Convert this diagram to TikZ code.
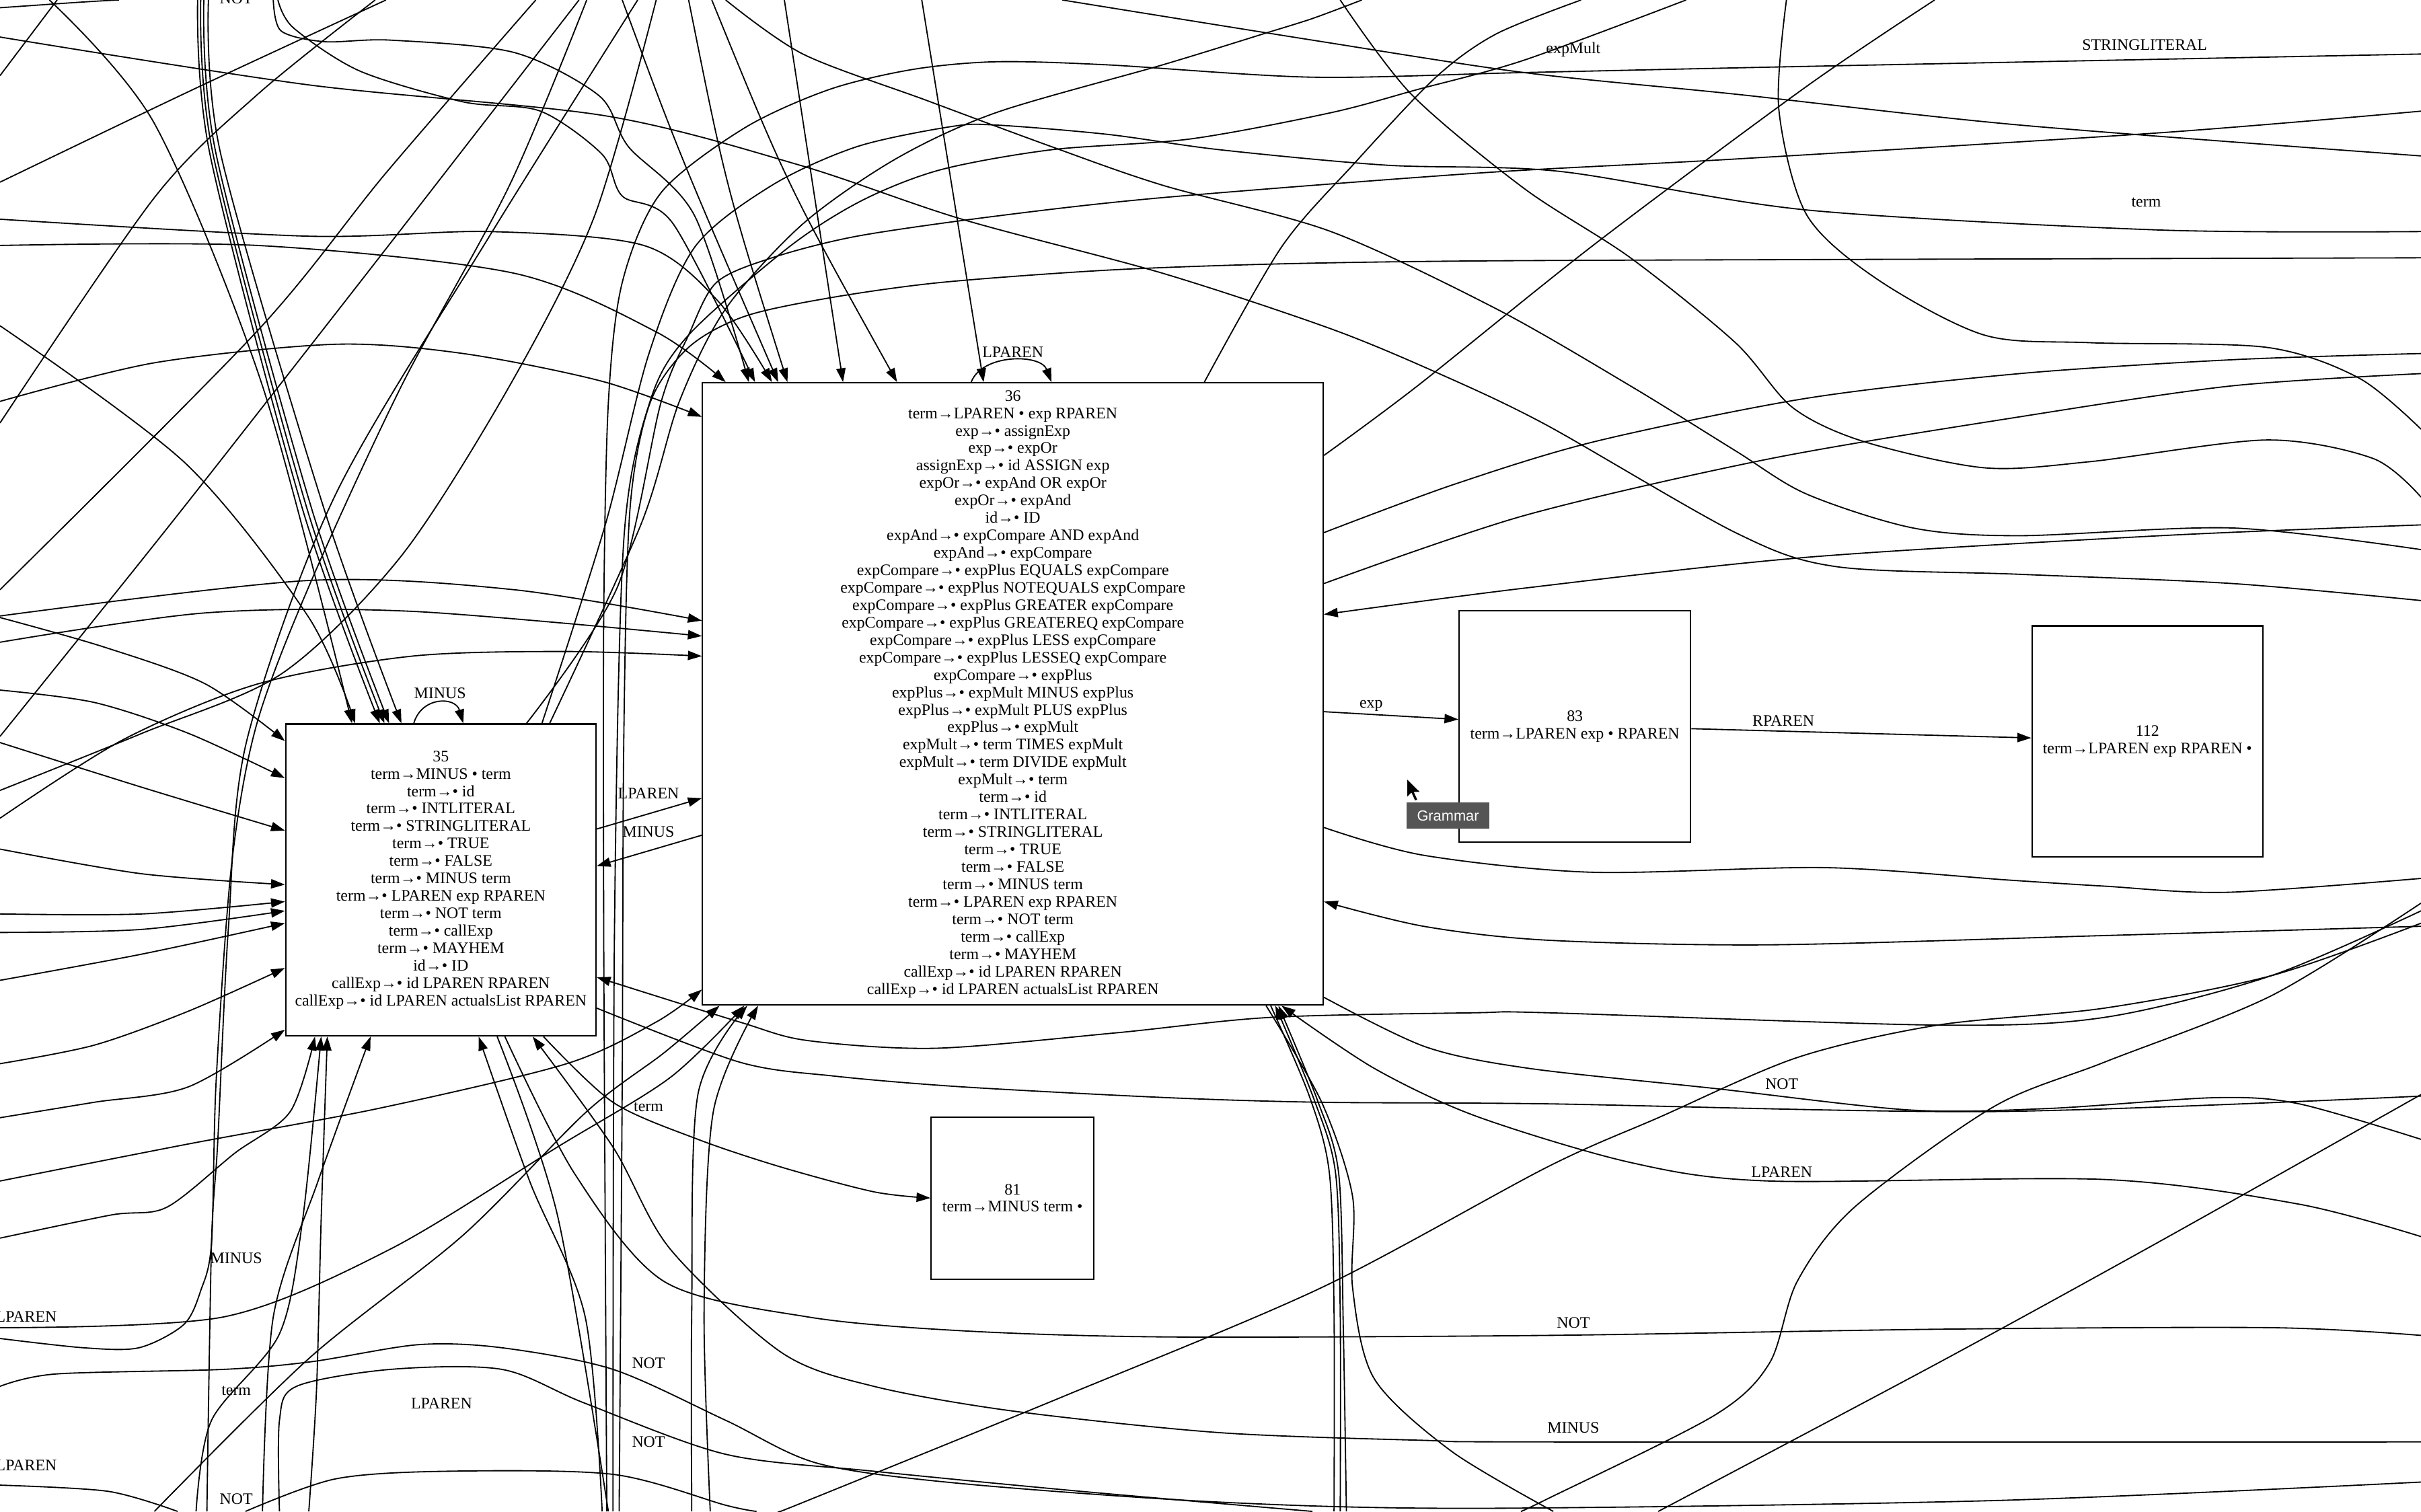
\documentclass[tikz,border=0pt]{standalone}
\usepackage{fontspec}
\setmainfont{Liberation Serif}
\newfontfamily\tipfont{Liberation Sans}
\usepackage{tikz}
\usetikzlibrary{arrows.meta}
\definecolor{tipgray}{RGB}{85,85,85}
\newcommand{\Tm}{term→}
\newcommand{\Ec}{expCompare→• expPlus}

\begin{document}
\begin{tikzpicture}[x=1pt, y=-1pt, line width=0.8pt,
  >={Triangle[length=9pt,width=6pt]},
  state/.style={draw, line width=0.9pt, inner sep=0pt, align=center,
    font=\fontsize{10.4}{11.3}\selectfont},
  lab/.style={inner sep=0pt, font=\fontsize{10.4}{12}\selectfont}]

  \useasboundingbox (0,0) rectangle (1568,979);

  %% states
  \node[state, minimum width=402pt, minimum height=403pt] (n36) at (656,449.5) {36\\
    \Tm LPAREN • exp RPAREN\\ exp→• assignExp\\ exp→• expOr\\
    assignExp→• id ASSIGN exp\\ expOr→• expAnd OR expOr\\ expOr→• expAnd\\
    id→• ID\\ expAnd→• expCompare AND expAnd\\ expAnd→• expCompare\\
    \Ec{} EQUALS expCompare\\ \Ec{} NOTEQUALS expCompare\\
    \Ec{} GREATER expCompare\\ \Ec{} GREATEREQ expCompare\\
    \Ec{} LESS expCompare\\ \Ec{} LESSEQ expCompare\\ \Ec\\
    expPlus→• expMult MINUS expPlus\\ expPlus→• expMult PLUS expPlus\\
    expPlus→• expMult\\ expMult→• term TIMES expMult\\
    expMult→• term DIVIDE expMult\\ expMult→• term\\ \Tm• id\\
    \Tm• INTLITERAL\\ \Tm• STRINGLITERAL\\ \Tm• TRUE\\ \Tm• FALSE\\
    \Tm• MINUS term\\ \Tm• LPAREN exp RPAREN\\ \Tm• NOT term\\
    \Tm• callExp\\ \Tm• MAYHEM\\ callExp→• id LPAREN RPAREN\\
    callExp→• id LPAREN actualsList RPAREN};
  \node[state, minimum width=201pt, minimum height=202pt] (n35) at (285.5,570) {35\\
    \Tm MINUS • term\\ \Tm• id\\ \Tm• INTLITERAL\\ \Tm• STRINGLITERAL\\
    \Tm• TRUE\\ \Tm• FALSE\\ \Tm• MINUS term\\ \Tm• LPAREN exp RPAREN\\
    \Tm• NOT term\\ \Tm• callExp\\ \Tm• MAYHEM\\ id→• ID\\
    callExp→• id LPAREN RPAREN\\ callExp→• id LPAREN actualsList RPAREN};
  \node[state, minimum width=105.5pt, minimum height=105pt] (n81) at (655.8,776) {81\\ \Tm MINUS term •};
  \node[state, minimum width=150pt, minimum height=150pt] (n83) at (1020,470.5) {83\\ \Tm LPAREN exp • RPAREN};
  \node[state, minimum width=149.6pt, minimum height=149.6pt] (n112) at (1390.8,480.2) {112\\ \Tm LPAREN exp RPAREN •};

  %% edges between the states
  \draw[->] (n35.north-|268,0) .. controls (273,451) and (295,451) .. (n35.north-|300,0); %% 35->35
  \node[lab] (lm1) at (285,449) {MINUS};
  \draw[->] (n36.north-|629,0) .. controls (636,229) and (674,229) .. (n36.north-|681,0); %% 36->36
  \node[lab] (llp1) at (656,228) {LPAREN};
  \draw[->] (n35.east|-0,537) -- (n36.west|-0,517); %% 35->36
  \node[lab] (llp2) at (420,514) {LPAREN};
  \draw[->] (n36.west|-0,541) -- (n35.east|-0,561); %% 36->35
  \node[lab] (lm2) at (420,539) {MINUS};
  \draw[->] (n36.east|-0,461) -- (n83.west|-0,466); %% 36->83
  \node[lab] (lexp) at (888,457) {exp};
  \draw[->] (n83.east|-0,472) -- (n112.west|-0,478); %% 83->112
  \node[lab] (lrp) at (1155,467) {RPAREN};
  \draw[->] plot[smooth] coordinates {(n35.south-|352,0) (397,714) (452,738) (506,756) (566,772) (n81.west|-0,776)}; %% 35->81
  \node[lab] (lt1) at (420,717) {term};

  %% from the top left
  \draw (0,5) .. controls (30,3) and (55,1) .. (77,0);
  \draw (0,49) -- (37,0);
  \draw plot[smooth] coordinates {(0,118) (125,58) (250,0)};
  \draw plot[smooth] coordinates {(0,274) (100,128) (167,61) (243,0)};
  \draw plot[smooth] coordinates {(347,0) (250,112) (167,214) (0,382)};
  \draw plot[smooth] coordinates {(375,0) (233,183) (110,340) (0,477)};
  \draw plot[smooth] coordinates {(413,0) (317,153) (217,321) (160,479) (148,600) (141,740) (137,805) (134,979)};
  \draw plot[smooth] coordinates {(0,867) (54,873) (90,873) (119,858) (130,836) (137,805) (140,700) (150,560) (166,470) (200,380) (260,250) (330,120) (380,0)};
  \draw plot[smooth] coordinates {(0,512) (92,475) (183,436) (260,360) (330,250) (385,140) (425,0)};
  \draw[->] plot[smooth] coordinates {(32,0) (100,80) (170,250) (n35.north-|228,0)};
  \draw[->] plot[smooth] coordinates {(0,211) (120,300) (200,400) (n35.north-|230,0)};
  \foreach \a/\b in {128/246,130/249,132/252,135/260}
    \draw[->] plot[smooth] coordinates {(\a,0) (\a+8,100) (\b-50,330) (n35.north-|\b,0)};
  \node[lab] (ln0) at (153,-1) {NOT};

  %% into 36 from the top and the left
  \draw[->] plot[smooth] coordinates {(0,142) (200,153) (317,150) (417,159) (465,195) (n36.north-|500,0)};
  \draw[->] plot[smooth] coordinates {(0,159) (167,159) (333,177) (425,215) (n36.north-|470,0)};
  \draw[->] plot[smooth] coordinates {(177,0) (182,20) (210,27) (253,26) (333,34) (388,62) (407,95) (450,140) (n36.north-|485,0)};
  \draw[->] plot[smooth] coordinates {(180,0) (190,18) (233,46) (300,66) (350,72) (390,100) (403,127) (436,145) (n36.north-|489,0)};
  \draw[->] plot[smooth] coordinates {(0,260) (100,235) (217,223) (300,229) (390,247) (n36.west|-0,270)};
  \draw[->] (403,0) .. controls (440,100) .. (n36.north-|504,0);
  \draw[->] (446,0) .. controls (470,120) .. (n36.north-|510,0);
  \draw[->] (461,0) .. controls (510,120) .. (n36.north-|581,0);
  \draw[->] (508,0) -- (n36.north-|546,0);
  \draw[->] (597,0) -- (n36.north-|637,0);
  \draw[->] plot[smooth] coordinates {(0,399) (200,376) (333,382) (n36.west|-0,402)};
  \draw[->] plot[smooth] coordinates {(0,416) (133,397) (267,396) (n36.west|-0,412)};
  \draw[->] plot[smooth] coordinates {(0,530) (80,479) (167,443) (267,425) (367,422) (n36.west|-0,425)};

  %% long ones over the top
  \draw plot[smooth] coordinates {(0,24) (200,55) (392,75) (518,107) (623,142) (753,177) (862,213) (932,242) (1001,275) (1124,345) (1189,367) (1308,372) (1446,378) (1568,389)};
  \draw plot[smooth] coordinates {(1568,35) (1170,43) (987,47) (850,50) (717,42) (645,40) (591,45) (537,58) (482,83) (428,125) (403,183) (394,261) (391,400) (391,600) (392,800) (393,979)};
  \node[lab] (lsl) at (1389,29) {STRINGLITERAL};
  \draw plot[smooth] coordinates {(1092,0) (987,39) (918,58) (862,73) (771,90) (681,97) (609,110) (558,130) (511,160) (446,217) (421,260) (404,350) (398,600) (397,979)};
  \draw plot[smooth] coordinates {(1568,167) (1216,168) (959,169) (826,171) (717,175) (609,183) (537,193) (482,205) (446,225) (421,261) (408,330) (404,479) (403,700) (401,979)};
  \draw plot[smooth] coordinates {(n35.north-|351,0) (392,340) (420,230) (450,160) (500,120) (555,95) (616,82) (645,81) (717,87) (790,97) (898,107) (1010,111) (1170,136) (1399,149) (1568,150)};
  \node[lab] (lt0) at (1390,131) {term};
  \draw plot[smooth] coordinates {(n35.north-|341,0) (400,380) (428,261) (446,217) (464,183) (500,167) (555,153) (645,140) (753,128) (959,112) (1124,103) (1399,86) (1568,72)};
  \draw plot[smooth] coordinates {(n35.north-|356,0) (415,340) (440,260) (470,200) (520,145) (580,103) (645,73) (753,42) (818,22) (850,12) (882,0)};
  \draw plot[smooth] coordinates {(688,0) (850,26) (987,47) (1124,61) (1308,81) (1568,101)};
  \node[lab] (lem) at (1019,32) {expMult};
  \draw plot[smooth] coordinates {(470,0) (520,35) (600,65) (681,95) (753,120) (862,150) (969,200) (1056,250) (1124,292) (1170,320) (1239,342) (1308,347) (1446,342) (1568,356)};

  %% top right
  \draw plot[smooth] coordinates {(868,0) (914,61) (987,122) (1056,167) (1124,222) (1161,264) (1207,286) (1285,303) (1354,299) (1468,285) (1537,297) (1568,322)};
  \draw plot[smooth] coordinates {(1157,0) (1152,70) (1170,139) (1216,181) (1285,217) (1354,222) (1468,225) (1528,245) (1568,278)};
  \draw plot[smooth] coordinates {(n36.north-|780,0) (830,160) (877,106) (930,50) (969,22) (1024,0)};
  \draw plot[smooth] coordinates {(n36.east|-0,295) (918,250) (1033,158) (1170,56) (1253,0)};
  \draw plot[smooth] coordinates {(n36.east|-0,345) (941,314) (1033,286) (1170,258) (1308,242) (1446,233) (1568,229)};
  \draw plot[smooth] coordinates {(n36.east|-0,378) (987,334) (1147,297) (1308,270) (1445,250) (1568,242)};
  \draw[->] plot[smooth] coordinates {(1568,340) (1399,347) (1170,361) (987,381) (n36.east|-0,398)};

  %% right, below 83 and 112
  \draw plot[smooth] coordinates {(n36.east|-0,536) (922,554) (1031,565) (1182,562) (1300,570) (1363,574) (1442,578) (1568,569)};
  \draw[->] plot[smooth] coordinates {(1568,600) (1363,606) (1146,612) (1002,609) (922,600) (n36.east|-0,584)};
  \draw[->] plot[smooth] coordinates {(1568,590) (1471,632) (1363,659) (1255,664) (1002,656) (956,656) (823,659) (723,669) (606,679) (523,674) (479,662) (n35.east|-0,633)};
  \draw plot[smooth] coordinates {(n35.east|-0,653) (479,688) (540,697) (623,704) (756,711) (856,714) (1002,715) (1291,720) (1568,710)};
  \draw plot[smooth] coordinates {(n36.east|-0,646) (923,678) (990,692) (1110,705) (1237,719) (1327,718) (1435,711) (1489,715) (1568,738)};
  \node[lab] (ln1) at (1154,702) {NOT};
  \draw[->] plot[smooth] coordinates {(1568,801) (1489,780) (1363,764) (1146,765) (1056,753) (956,723) (890,692) (n36.south-|830,0)};
  \node[lab] (llp3) at (1154,759) {LPAREN};
  \draw plot[smooth] coordinates {(1568,585) (1471,645) (1363,688) (1291,717) (1201,782) (1164,830) (1146,883) (1110,917) (1002,971) (985,979)};
  \draw plot[smooth] coordinates {(1568,709) (1399,804) (1255,883) (1074,979)};
  \draw plot[smooth] coordinates {(505,979) (523,972) (690,904) (856,834) (1002,756) (1074,724) (1164,685) (1255,664) (1363,653) (1471,632) (1568,598)};

  %% bundle under 36
  \draw plot[smooth] coordinates {(n36.south-|823,0) (848,710) (861,760) (864,850) (864,979)};
  \draw[->] plot[smooth] coordinates {(868,979) (868,850) (865,760) (851,712) (n36.south-|826,0)};
  \draw[->] plot[smooth] coordinates {(872,979) (870,860) (867,760) (853,712) (n36.south-|828,0)};
  \draw plot[smooth] coordinates {(n36.south-|820,0) (856,714) (876,775) (876,834) (890,893) (940,940) (1006,979)};

  %% below 35
  \draw plot[smooth] coordinates {(n35.south-|322,0) (361,787) (394,979)};
  \draw[->] plot[smooth] coordinates {(390,979) (379,853) (343,765) (n35.south-|310,0)};
  \draw plot[smooth] coordinates {(n35.south-|327,0) (372,760) (430,830) (523,853) (623,862) (756,866) (1002,865) (1255,861) (1471,860) (1568,865)};
  \node[lab] (ln3) at (1019,857) {NOT};
  \draw[->] plot[smooth] coordinates {(1568,934) (1002,934) (923,933) (790,928) (656,914) (566,898) (506,876) (434,809) (397,743) (n35.south-|345,0)};
  \node[lab] (lm3) at (1019,925) {MINUS};
  \draw plot[smooth] coordinates {(0,898) (36,890) (145,887) (202,882) (271,871) (325,873) (397,887) (470,920) (530,948) (623,961) (790,973) (956,977) (1291,972) (1568,960)};
  \draw[->] plot[smooth] coordinates {(0,802) (72,787) (108,782) (152,747) (188,720) (n35.south-|204,0)};
  \draw[->] plot[smooth] coordinates {(127,979) (137,920) (181,864) (196,790) (n35.south-|208,0)};
  \draw[->] plot[smooth] coordinates {(200,979) (205,900) (208,790) (n35.south-|212,0)};
  \draw[->] plot[smooth] coordinates {(170,979) (177,853) (206,765) (n35.south-|240,0)};

  %% into 35 from the left
  \draw[->] plot[smooth] coordinates {(0,400) (67,419) (133,443) (n35.west|-0,480)};
  \draw[->] plot[smooth] coordinates {(0,447) (61,455) (122,475) (n35.west|-0,504)};
  \draw[->] plot[smooth] coordinates {(0,481) (92,510) (n35.west|-0,538)};
  \draw[->] plot[smooth] coordinates {(0,550) (92,566) (n35.west|-0,573)};
  \draw[->] plot[smooth] coordinates {(0,592) (92,592) (n35.west|-0,584)};
  \draw[->] plot[smooth] coordinates {(0,604) (92,602) (n35.west|-0,590)};
  \draw[->] plot[smooth] coordinates {(0,635) (92,618) (n35.west|-0,598)};
  \draw[->] plot[smooth] coordinates {(0,689) (61,677) (122,655) (n35.west|-0,627)};
  \draw[->] plot[smooth] coordinates {(0,724) (61,714) (122,704) (n35.west|-0,667)};

  %% into 36 from below left
  \draw[->] plot[smooth] coordinates {(0,765) (122,741) (245,718) (367,689) (425,662) (n36.west|-0,641)};
  \draw[->] plot[smooth] coordinates {(100,979) (200,880) (300,800) (380,720) (430,682) (n36.south-|466,0)};
  \draw[->] plot[smooth] coordinates {(0,860) (145,853) (253,809) (361,743) (434,698) (n36.south-|482,0)};
  \draw[->] plot[smooth] coordinates {(448,979) (448,850) (452,709) (n36.south-|484,0)};
  \draw[->] plot[smooth] coordinates {(460,979) (456,850) (462,720) (n36.south-|491,0)};
  \draw plot[smooth] coordinates {(181,979) (181,920) (192,898) (253,887) (325,887) (379,909) (470,942) (566,953) (700,966) (850,979)};
  \draw plot[smooth] coordinates {(159,979) (217,958) (289,953) (397,955) (470,975) (490,979)};
  \draw plot[smooth] coordinates {(0,962) (70,966) (115,979)};

  %% labels at the bottom left
  \node[lab] (lm4) at (153,815) {MINUS};
  \node[lab] (llp4) at (17,853) {LPAREN};
  \node[lab] (lt2) at (153,901) {term};
  \node[lab] (llp5) at (286,909) {LPAREN};
  \node[lab] (ln4) at (420,883) {NOT};
  \node[lab] (ln5) at (420,934) {NOT};
  \node[lab] (llp6) at (17,949) {LPAREN};
  \node[lab] (ln6) at (153,971) {NOT};

  %% tooltip and pointer
  \node[fill=tipgray, text=white, inner sep=0pt, minimum width=53.6pt, minimum height=16.8pt,
    font=\tipfont\fontsize{9.5}{10}\selectfont] (tip) at (937.8,528.3) {Grammar};
  \filldraw[fill=black, draw=white, line width=0.7pt, line join=round] (911,504) -- ++(0,13) -- ++(3,-3)
    -- ++(2.3,5) -- ++(2.1,-0.9) -- ++(-2.2,-4.8) -- ++(4.2,0) -- cycle;
\end{tikzpicture}
\end{document}
